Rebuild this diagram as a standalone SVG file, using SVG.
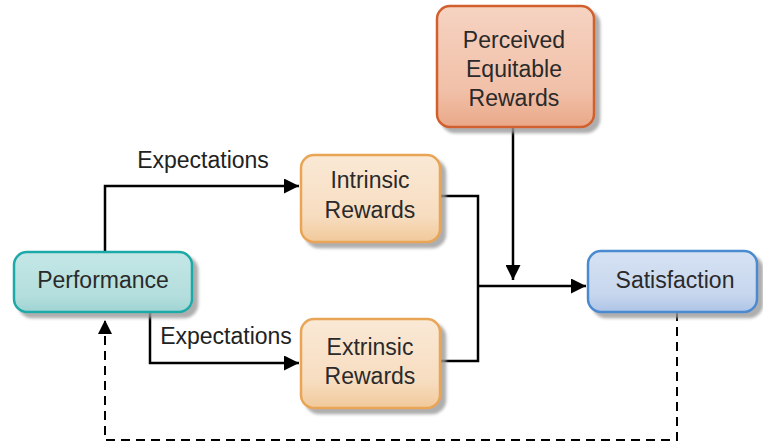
<svg xmlns="http://www.w3.org/2000/svg" width="763" height="445" viewBox="0 0 763 445">
<style>
.lbl{font-family:"Liberation Sans",Arial,sans-serif;font-size:23px;fill:#2a2a2a;text-anchor:middle}
.el{font-family:"Liberation Sans",Arial,sans-serif;font-size:23px;fill:#222;text-anchor:middle}
.c{fill:none;stroke:#000;stroke-width:2.5}
.d{fill:none;stroke:#000;stroke-width:2;stroke-dasharray:9 6}
.box{stroke-width:2.5;filter:url(#sh)}
</style>
<defs>
<filter id="sh" x="-10%" y="-10%" width="130%" height="140%">
<feDropShadow dx="5" dy="5" stdDeviation="1.5" flood-color="#9a9a9a" flood-opacity="0.8"/>
</filter>
<linearGradient id="gT" x1="0" y1="0" x2="0" y2="1"><stop offset="0" stop-color="#c4e7e6"/><stop offset="0.75" stop-color="#b3dedd"/><stop offset="1" stop-color="#9ed3d2"/></linearGradient>
<linearGradient id="gO" x1="0" y1="0" x2="0" y2="1"><stop offset="0" stop-color="#fae9d6"/><stop offset="0.7" stop-color="#f7ddc0"/><stop offset="1" stop-color="#f1c99a"/></linearGradient>
<linearGradient id="gR" x1="0" y1="0" x2="0" y2="1"><stop offset="0" stop-color="#f6d3c2"/><stop offset="0.7" stop-color="#f1c0a8"/><stop offset="1" stop-color="#e9a888"/></linearGradient>
<linearGradient id="gB" x1="0" y1="0" x2="0" y2="1"><stop offset="0" stop-color="#d6e2f3"/><stop offset="0.7" stop-color="#c8d7ee"/><stop offset="1" stop-color="#aec4e6"/></linearGradient>
<marker id="ah" viewBox="0 0 10 10" refX="10" refY="5" markerWidth="6" markerHeight="6" markerUnits="strokeWidth" orient="auto"><path d="M0,0 L10,5 L0,10 z" fill="#000"/></marker>
<marker id="ahd" viewBox="0 0 10 10" refX="10" refY="5" markerWidth="7" markerHeight="7" markerUnits="strokeWidth" orient="auto"><path d="M0,0 L10,5 L0,10 z" fill="#000"/></marker>
</defs>
<g id="connectors">
<polyline class="c" points="105,252 105,186 299,186" marker-end="url(#ah)"/>
<polyline class="c" points="150,313 150,363 299,363" marker-end="url(#ah)"/>
<polyline class="c" points="440,196 478,196 478,361 440,361"/>
<line class="c" x1="478" y1="286" x2="586" y2="286" marker-end="url(#ah)"/>
<line class="c" x1="513" y1="127" x2="513" y2="280" marker-end="url(#ah)"/>
<polyline class="d" points="677,312 677,440 105,440 105,320" marker-end="url(#ahd)"/>
<text class="el" x="203" y="168">Expectations</text>
<text class="el" x="226" y="344">Expectations</text>
</g>
<g id="performance">
<rect class="box" x="14" y="252" width="178" height="60" rx="13" fill="url(#gT)" stroke="#1faaa8"/>
<text class="lbl" x="103" y="288">Performance</text>
</g>
<g id="intrinsic">
<rect class="box" x="301" y="155" width="139" height="87" rx="13" fill="url(#gO)" stroke="#e9a556"/>
<text class="lbl" x="370" y="188">Intrinsic</text>
<text class="lbl" x="370" y="218">Rewards</text>
</g>
<g id="extrinsic">
<rect class="box" x="301" y="319" width="139" height="89" rx="13" fill="url(#gO)" stroke="#e9a556"/>
<text class="lbl" x="370" y="355">Extrinsic</text>
<text class="lbl" x="370" y="384">Rewards</text>
</g>
<g id="perceived">
<rect class="box" x="437" y="6" width="157" height="121" rx="13" fill="url(#gR)" stroke="#d1602d"/>
<text class="lbl" x="514" y="48">Perceived</text>
<text class="lbl" x="514" y="77">Equitable</text>
<text class="lbl" x="514" y="106">Rewards</text>
</g>
<g id="satisfaction">
<rect class="box" x="588" y="251" width="169" height="61" rx="13" fill="url(#gB)" stroke="#4a8ad0"/>
<text class="lbl" x="675" y="288">Satisfaction</text>
</g>
</svg>
